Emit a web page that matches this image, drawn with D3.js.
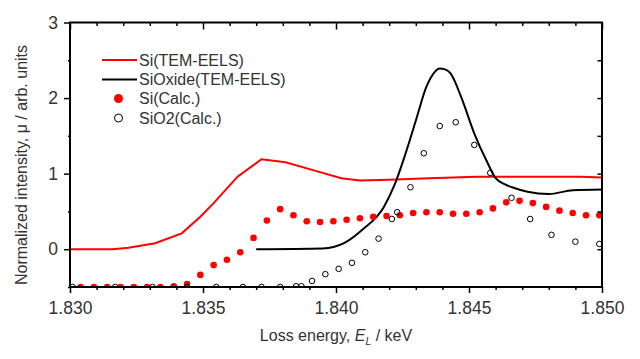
<!DOCTYPE html>
<html><head><meta charset="utf-8">
<script src="https://cdn.jsdelivr.net/npm/d3@7"></script>
<style>
body{margin:0;background:#fff;}
text{font-family:"Liberation Sans",Arial,sans-serif;fill:#333;}
</style></head>
<body><svg id="c" width="640" height="359"></svg>
<script>
// Si(TEM-EELS) line
const siTemX=[1.8300,1.8316,1.8322,1.8332,1.8342,1.8349,1.8354,1.8363,1.8372,1.8381,1.8393,1.8402,1.8409,1.8420,1.8435,1.8453,1.8492,1.8500];
const siTemY=[0,0,0.02,0.08,0.21,0.43,0.61,0.96,1.19,1.15,1.03,0.94,0.91,0.92,0.94,0.96,0.96,0.95];
// SiOxide(TEM-EELS) line
const oxTemX=[1.8370,1.8395,1.8403,1.8410,1.8418,1.8422,1.8426,1.8430,1.8434,1.8437,1.8439,1.8441,1.8443,1.8447,1.8452,1.8457,1.8460,1.8464,1.8467,1.8472,1.8480,1.8489,1.8500];
const oxTemY=[0,0.01,0.08,0.26,0.56,0.85,1.25,1.70,2.15,2.34,2.39,2.38,2.33,2.02,1.53,1.14,0.94,0.85,0.81,0.76,0.73,0.78,0.79];
// Si(Calc.) points
const siCalcX=[1.8304,1.8309,1.8314,1.8319,1.8324,1.8329,1.8334,1.8339,1.8344,1.8349,1.8354,1.8359,1.8364,1.8369,1.8374,1.8379,1.8384,1.8389,1.8394,1.8399,1.8404,1.8409,1.8414,1.8419,1.8424,1.8429,1.8434,1.8439,1.8444,1.8449,1.8454,1.8459,1.8464,1.8469,1.8474,1.8479,1.8484,1.8489,1.8494,1.8499];
const siCalcY=[-0.5,-0.5,-0.5,-0.5,-0.5,-0.5,-0.5,-0.49,-0.46,-0.34,-0.21,-0.14,-0.04,0.15,0.38,0.53,0.45,0.37,0.36,0.37,0.39,0.41,0.43,0.44,0.45,0.48,0.49,0.49,0.47,0.47,0.49,0.54,0.62,0.64,0.61,0.56,0.51,0.48,0.45,0.45];
// SiO2(Calc.) points
const sio2CalcX=[1.8301,1.8317,1.8331,1.8344,1.8355,1.8365,1.8372,1.8379,1.8385,1.8387,1.8391,1.8396,1.8401,1.8406,1.8411,1.8416,1.8421,1.8423,1.8428,1.8433,1.8439,1.8445,1.8452,1.8458,1.8466,1.8473,1.8481,1.8490,1.8499];
const sio2CalcY=[-0.5,-0.5,-0.5,-0.5,-0.5,-0.5,-0.5,-0.5,-0.49,-0.49,-0.42,-0.33,-0.26,-0.18,-0.04,0.14,0.40,0.49,0.82,1.27,1.63,1.68,1.38,1.01,0.68,0.40,0.19,0.10,0.07];
const xTickLabels=["1.830","1.835","1.840","1.845","1.850"];
const yTickLabels=["0","1","2","3"];
const legendLabels=["Si(TEM-EELS)","SiOxide(TEM-EELS)","Si(Calc.)","SiO2(Calc.)"];

const svg=d3.select("#c");
const m={l:70,r:38,t:22.5,b:72};
const W=640-m.l-m.r,H=359-m.t-m.b;
const x=d3.scaleLinear().domain([1.830,1.850]).range([m.l,m.l+W]);
const y=d3.scaleLinear().domain([-0.5,3]).range([m.t+H,m.t]);

svg.append("defs").append("clipPath").attr("id","clip").append("rect")
  .attr("x",m.l).attr("y",m.t).attr("width",W).attr("height",H);

const g=svg.append("g").attr("clip-path","url(#clip)");
const line=d3.line().x(d=>x(d[0])).y(d=>y(d[1]));
g.append("path").datum(siTemX.map((v,i)=>[v,siTemY[i]]))
  .attr("d",line).attr("fill","none").attr("stroke","#ff0000").attr("stroke-width",2);
g.append("path").datum(oxTemX.map((v,i)=>[v,oxTemY[i]]))
  .attr("d",line.curve(d3.curveMonotoneX)).attr("fill","none").attr("stroke","#000").attr("stroke-width",2);
g.selectAll("circle.si").data(siCalcX.map((v,i)=>[v,siCalcY[i]])).join("circle")
  .attr("class","si").attr("cx",d=>x(d[0])).attr("cy",d=>y(d[1])).attr("r",3.3).attr("fill","#ff0000");
g.selectAll("circle.o").data(sio2CalcX.map((v,i)=>[v,sio2CalcY[i]])).join("circle")
  .attr("class","o").attr("cx",d=>x(d[0])).attr("cy",d=>y(d[1])).attr("r",2.8)
  .attr("fill","none").attr("stroke","#000").attr("stroke-width",1);

// axes
const fs=17.5;
const xMajor=xTickLabels.map(Number);
const xMinor=d3.range(1.830,1.8505,0.001).filter(v=>!xMajor.some(t=>Math.abs(t-v)<1e-6));
const bAx=d3.axisBottom(x).tickValues(xMajor).tickFormat((d,i)=>xTickLabels[i]).tickSize(6).tickPadding(9);
svg.append("g").attr("transform",`translate(0,${m.t+H})`).call(bAx);
svg.append("g").attr("transform",`translate(0,${m.t+H})`).call(d3.axisBottom(x).tickValues(xMinor).tickSize(3).tickFormat(""));
svg.append("g").attr("transform",`translate(0,${m.t})`).call(d3.axisBottom(x).tickValues(xMajor).tickSize(7).tickFormat(""));
svg.append("g").attr("transform",`translate(0,${m.t})`).call(d3.axisBottom(x).tickValues(xMinor).tickSize(3.5).tickFormat(""));
const yMajor=yTickLabels.map(Number);
svg.append("g").attr("transform",`translate(${m.l},0)`).call(d3.axisLeft(y).tickValues(yMajor).tickFormat((d,i)=>yTickLabels[i]).tickSize(6).tickPadding(6));
svg.append("g").attr("transform",`translate(${m.l},0)`).call(d3.axisLeft(y).tickValues([-0.5,0.5,1.5,2.5]).tickSize(2).tickFormat(""));
svg.append("g").attr("transform",`translate(${m.l+W},0)`).call(d3.axisLeft(y).tickValues([0,0.5,1,1.5,2,2.5]).tickSize(4.5).tickFormat(""));
svg.selectAll(".domain").remove();
svg.selectAll(".tick line").attr("stroke","#000").attr("stroke-width",1.5);
svg.selectAll(".tick text").attr("font-size",fs).attr("font-family",'"Liberation Sans",Arial,sans-serif').attr("fill","#444");
svg.append("rect").attr("x",m.l).attr("y",m.t).attr("width",W).attr("height",H)
  .attr("fill","none").attr("stroke","#000").attr("stroke-width",2);

// axis titles
const xt=svg.append("text").attr("x",m.l+W/2).attr("y",341).attr("text-anchor","middle").attr("font-size",16);
xt.append("tspan").text("Loss energy, ");
xt.append("tspan").attr("font-style","italic").text("E");
xt.append("tspan").attr("font-style","italic").attr("font-size",10.5).attr("dy",4).text("L");
xt.append("tspan").attr("dy",-4).text(" / keV");
svg.append("text").attr("transform",`translate(27,165) rotate(-90)`).attr("text-anchor","middle")
  .attr("font-size",16).text("Normalized  intensity, μ / arb. units");

// legend
const lg=svg.append("g");
const ly=[60,79.5,98.5,118];
lg.append("line").attr("x1",102).attr("x2",137).attr("y1",ly[0]).attr("y2",ly[0]).attr("stroke","#ff0000").attr("stroke-width",2);
lg.append("line").attr("x1",102).attr("x2",137).attr("y1",ly[1]).attr("y2",ly[1]).attr("stroke","#000").attr("stroke-width",2);
lg.append("circle").attr("cx",118.5).attr("cy",ly[2]).attr("r",4.5).attr("fill","#ff0000");
lg.append("circle").attr("cx",118.5).attr("cy",ly[3]).attr("r",4).attr("fill","none").attr("stroke","#000").attr("stroke-width",1);
legendLabels.forEach((t,i)=>{
  lg.append("text").attr("x",139).attr("y",ly[i]).attr("dy","0.36em").attr("font-size",16).text(t);
});
</script></body></html>
